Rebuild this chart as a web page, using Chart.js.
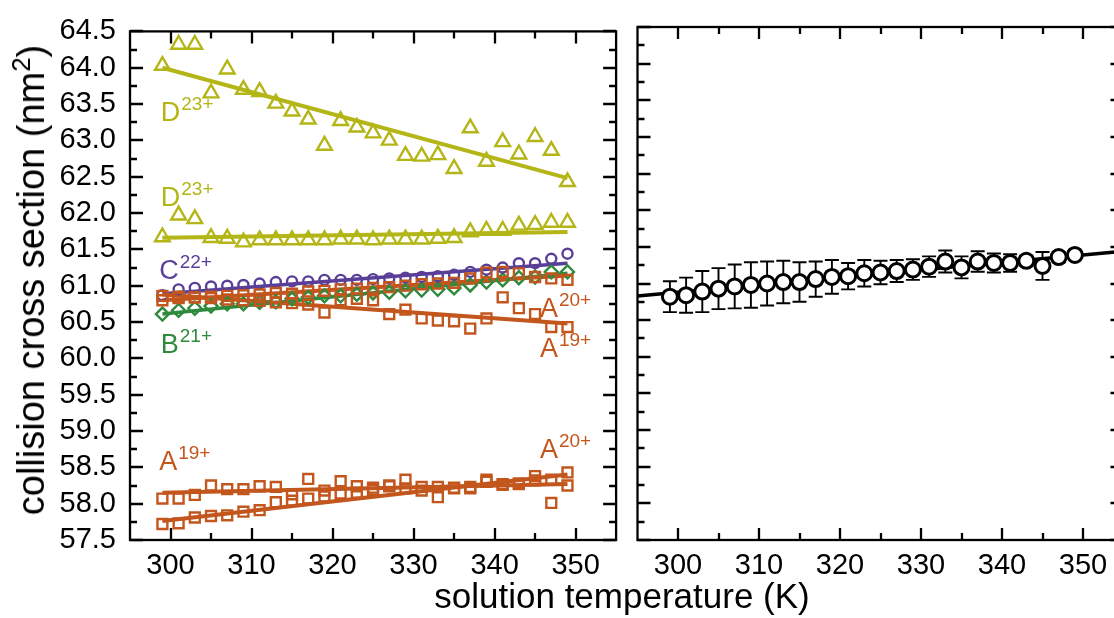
<!DOCTYPE html>
<html><head><meta charset="utf-8">
<script src="https://cdn.jsdelivr.net/npm/chart.js@4/dist/chart.umd.min.js"></script>
<style>
html,body{margin:0;padding:0;background:#fff;overflow:hidden;width:1114px;height:618px;}
#wrap{position:relative;width:1114px;height:618px;overflow:hidden;background:#fff;}
#c1{position:absolute;left:0;top:0;}
#c2{position:absolute;left:627px;top:0;}
.t{position:absolute;font-family:'Liberation Sans',Arial,sans-serif;color:#000;white-space:nowrap;line-height:1;}
#xtitle{left:622px;top:578px;font-size:35px;transform:translateX(-50%);}
#ytitle{left:31px;top:280px;font-size:38px;transform:translate(-50%,-50%) rotate(-90deg);}
#ytitle sup{font-size:0.68em;vertical-align:0.55em;line-height:0;}
</style></head>
<body><div id="wrap">
<canvas id="c1" width="627" height="618"></canvas>
<canvas id="c2" width="507" height="618"></canvas>
<div class="t" id="xtitle">solution temperature (K)</div>
<div class="t" id="ytitle">collision cross section (nm<sup>2</sup>)</div>
</div>
<script>
// ---- data ----
const temps = [299,301,303,305,307,309,311,313,315,317,319,321,323,325,327,329,331,333,335,337,339,341,343,345,347,349];
const fitT = [299,349];
const dUpper = [64.03,64.32,64.32,63.65,63.98,63.70,63.67,63.51,63.40,63.29,62.93,63.27,63.18,63.10,63.00,62.79,62.78,62.80,62.61,63.17,62.71,62.98,62.81,63.05,62.86,62.43];
const dUpperFit = [64.00,62.48];
const dLower = [61.67,61.97,61.92,61.66,61.65,61.60,61.63,61.63,61.63,61.63,61.63,61.64,61.64,61.63,61.64,61.64,61.64,61.65,61.66,61.74,61.76,61.76,61.83,61.84,61.87,61.87];
const dLowerFit = [61.66,61.74];
const c22 = [60.87,60.95,60.97,60.99,61.00,61.01,61.03,61.05,61.06,61.06,61.08,61.08,61.08,61.09,61.10,61.11,61.12,61.13,61.15,61.19,61.22,61.25,61.31,61.31,61.37,61.44];
const c22Fit = [60.89,61.31];
const b21 = [60.61,60.66,60.69,60.72,60.75,60.75,60.77,60.78,60.82,60.84,60.86,60.86,60.88,60.90,60.91,60.93,60.94,60.95,60.97,61.01,61.05,61.08,61.11,61.12,61.19,61.19];
const b21Fit = [60.61,61.17];
const a20Top = [60.80,60.83,60.84,60.85,60.86,60.87,60.88,60.90,60.89,60.92,60.93,60.95,60.96,60.97,60.98,61.00,61.02,61.03,61.04,61.10,61.18,61.19,61.17,61.12,61.10,61.08];
const a20TopFit = [60.80,61.14];
const a19Top = [60.86,60.85,60.84,60.83,60.81,60.80,60.79,60.77,60.76,60.74,60.63,60.80,60.82,60.80,60.61,60.67,60.55,60.52,60.51,60.41,60.55,60.84,60.69,60.61,60.43,60.43];
const a19TopFit = [60.88,60.48];
const a19Bottom = [58.07,58.07,58.12,58.25,58.20,58.20,58.24,58.23,58.13,58.34,58.18,58.31,58.24,58.22,58.25,58.33,58.18,58.09,58.22,58.21,58.33,58.26,58.27,58.38,58.01,58.25];
const a19BottomFit = [58.15,58.27];
const a20Bottom = [57.72,57.73,57.81,57.83,57.84,57.89,57.91,58.02,58.04,58.07,58.10,58.14,58.15,58.19,58.24,58.21,58.23,58.23,58.21,58.23,58.30,58.27,58.28,58.32,58.33,58.43];
const a20BottomFit = [57.76,58.40];
const avgCCS = [60.82,60.84,60.89,60.93,60.96,60.98,61.00,61.02,61.02,61.06,61.09,61.10,61.14,61.15,61.17,61.19,61.23,61.30,61.22,61.30,61.28,61.28,61.31,61.24,61.36,61.39];
const avgErr = [0.21,0.24,0.28,0.28,0.30,0.31,0.30,0.29,0.27,0.24,0.23,0.18,0.18,0.16,0.15,0.14,0.14,0.15,0.15,0.14,0.13,0.12,0.07,0.19,0.07,0.03];
const avgFitT = [295,355];
const avgFit = [60.83,61.44];
const xTickValues = [300,310,320,330,340,350];
const xMinorValues = [305,315,325,335,345];
const yTickValues = [57.5,58.0,58.5,59.0,59.5,60.0,60.5,61.0,61.5,62.0,62.5,63.0,63.5,64.0,64.5];
const yMinorValues = [57.75,58.25,58.75,59.25,59.75,60.25,60.75,61.25,61.75,62.25,62.75,63.25,63.75,64.25];
const labelMain = ['D','D','C','B','A','A','A','A'];
const labelSup = ['23+','23+','22+','21+','20+','19+','19+','20+'];

// ---- styles ----
const FONT = "'Liberation Sans', Arial, sans-serif";
const colD = '#B4B516', colC = '#5A3F98', colB = '#2F8A3D', colA = '#C2561D';
const labelColors = [colD,colD,colC,colB,colA,colA,colA,colA];
const labelAnchor = [[298.8,63.26],[298.8,62.10],[298.6,61.09],[298.8,60.07],[345.6,60.57],[345.6,60.02],[298.6,58.46],[345.6,58.63]];

const pts = (xs, ys) => xs.map((x,i)=>({x:x, y:ys[i]}));
function scatterSet(ys, color, style, r, bw){
  return {data:pts(temps,ys), showLine:false, pointStyle:style, pointRadius:r, pointBorderColor:color,
    pointBackgroundColor:'rgba(0,0,0,0)', pointBorderWidth:bw||2.4, borderColor:color, order:0};
}
function fitSet(ys, color, w){
  return {data:pts(fitT,ys), showLine:true, pointRadius:0, borderColor:color, borderWidth:w||4, tension:0, order:1};
}

function framePlugin(){
  return {id:'frame', afterDraw(chart){
    const {ctx, chartArea:a, scales} = chart; const x=scales.x, y=scales.y;
    ctx.save(); ctx.strokeStyle='#000'; ctx.lineWidth=2.3;
    ctx.beginPath();
    const xt=(vals,len)=>vals.forEach(v=>{const p=Math.round(x.getPixelForValue(v));
      ctx.moveTo(p,a.bottom); ctx.lineTo(p,a.bottom-len); ctx.moveTo(p,a.top); ctx.lineTo(p,a.top+len);});
    const yt=(vals,len)=>vals.forEach(v=>{const p=Math.round(y.getPixelForValue(v));
      ctx.moveTo(a.left,p); ctx.lineTo(a.left+len,p); ctx.moveTo(a.right,p); ctx.lineTo(a.right-len,p);});
    xt(xTickValues,12); xt(xMinorValues,7); yt(yTickValues,13); yt(yMinorValues,7);
    ctx.stroke();
    ctx.strokeRect(a.left,a.top,a.right-a.left,a.bottom-a.top);
    ctx.restore();
  }};
}
const labelPlugin = {id:'lbls', afterDatasetsDraw(chart){
  const {ctx, scales:{x,y}} = chart; ctx.save();
  labelMain.forEach((m,i)=>{
    const px = x.getPixelForValue(labelAnchor[i][0]), py = y.getPixelForValue(labelAnchor[i][1]);
    ctx.fillStyle = labelColors[i]; ctx.textBaseline='alphabetic'; ctx.textAlign='left';
    ctx.font = '27px '+FONT; ctx.fillText(m, px, py);
    const w = ctx.measureText(m).width;
    ctx.font = '19px '+FONT; ctx.fillText(labelSup[i], px+w+1, py-11);
  });
  ctx.restore();
}};
const errPlugin = {id:'err', beforeDatasetsDraw(chart){
  const {ctx, scales:{x,y}} = chart; ctx.save(); ctx.strokeStyle='#000'; ctx.lineWidth=1.9; ctx.beginPath();
  temps.forEach((t,i)=>{const px=x.getPixelForValue(t), p1=y.getPixelForValue(avgCCS[i]+avgErr[i]), p2=y.getPixelForValue(avgCCS[i]-avgErr[i]);
    ctx.moveTo(px,p1); ctx.lineTo(px,p2); ctx.moveTo(px-7,p1); ctx.lineTo(px+7,p1); ctx.moveTo(px-7,p2); ctx.lineTo(px+7,p2);});
  ctx.stroke(); ctx.restore();
}};

function xScale(showLabels){
  return {type:'linear', min:295, max:355,
    afterBuildTicks:s=>{s.ticks = xTickValues.map(v=>({value:v}));},
    afterFit:s=>{s.height=78;},
    grid:{display:false, drawTicks:false}, border:{display:false},
    ticks:{display:showLabels, color:'#000', font:{family:FONT,size:29}, padding:9, maxRotation:0, autoSkip:false}};
}
function yScale(show){
  return {type:'linear', min:57.5, max:64.5, display:show,
    afterBuildTicks:s=>{s.ticks = yTickValues.map(v=>({value:v}));},
    afterFit:s=>{ if(show) s.width=130; },
    grid:{display:false, drawTicks:false}, border:{display:false},
    ticks:{color:'#000', font:{family:FONT,size:29}, padding:14, autoSkip:false, callback:v=>Number(v).toFixed(1)}};
}
const common = {responsive:false, animation:false, devicePixelRatio:1,
  plugins:{legend:{display:false}, tooltip:{enabled:false}}};

new Chart(document.getElementById('c1'), {
  type:'scatter',
  data:{datasets:[
    scatterSet(dUpper,colD,'triangle',8.5), fitSet(dUpperFit,colD),
    scatterSet(dLower,colD,'triangle',8.5), fitSet(dLowerFit,colD),
    scatterSet(a20Top,colA,'rect',7), fitSet(a20TopFit,colA),
    scatterSet(a19Top,colA,'rect',7), fitSet(a19TopFit,colA),
    scatterSet(c22,colC,'circle',5), fitSet(c22Fit,colC,3.5),
    scatterSet(b21,colB,'rectRot',6.5), fitSet(b21Fit,colB,3.5),
    scatterSet(a19Bottom,colA,'rect',7), fitSet(a19BottomFit,colA),
    scatterSet(a20Bottom,colA,'rect',7), fitSet(a20BottomFit,colA)
  ]},
  options:Object.assign({}, common, {layout:{padding:{left:0,top:27,right:9,bottom:0}},
    scales:{x:xScale(true), y:yScale(true)}}),
  plugins:[framePlugin(), labelPlugin]
});

new Chart(document.getElementById('c2'), {
  type:'scatter',
  data:{datasets:[
    {data:pts(temps,avgCCS), showLine:false, pointStyle:'circle', pointRadius:7.5, pointBorderColor:'#000',
     pointBackgroundColor:'#fff', pointBorderWidth:3, order:0},
    {data:pts(avgFitT,avgFit), showLine:true, pointRadius:0, borderColor:'#000', borderWidth:3.5, tension:0, order:1}
  ]},
  options:Object.assign({}, common, {layout:{padding:{left:9,top:27,right:10,bottom:0}},
    scales:{x:xScale(true), y:yScale(false)}}),
  plugins:[framePlugin(), errPlugin]
});
</script>
</body></html>
